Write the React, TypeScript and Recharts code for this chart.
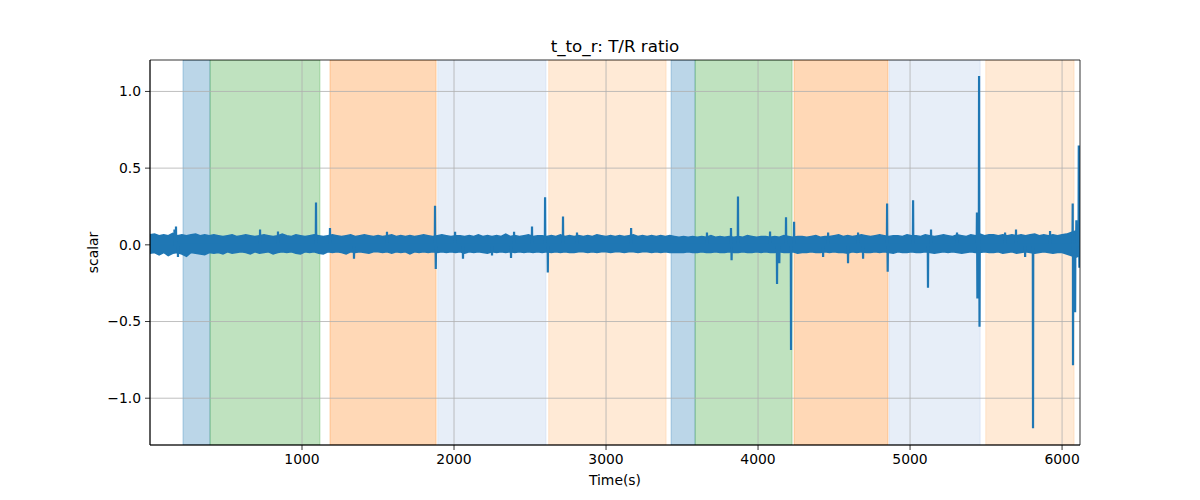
import React from 'react';
import { ComposedChart, Line, Area, XAxis, YAxis, ReferenceArea, ReferenceLine } from 'recharts';

// ---- data ----
// Noise envelope of the signal, sampled every 30 s.
// Each chunk lists alternating (upper, lower) envelope values.
const envelopeStep = 30;

const envelopeChunk0 = [
  0.065,-0.055, 0.07,-0.05, 0.06,-0.065, 0.065,-0.05, 0.06,-0.07,
  0.075,-0.055, 0.06,-0.05, 0.065,-0.06, 0.06,-0.075, 0.065,-0.05,
  0.07,-0.055, 0.06,-0.06, 0.065,-0.065, 0.06,-0.05, 0.065,-0.055,
  0.06,-0.05, 0.055,-0.06, 0.06,-0.045, 0.065,-0.055, 0.055,-0.05,
  0.06,-0.045, 0.065,-0.05, 0.06,-0.06, 0.055,-0.045, 0.06,-0.055,
  0.065,-0.05, 0.06,-0.045, 0.055,-0.06, 0.06,-0.05, 0.07,-0.045,
  0.06,-0.05, 0.055,-0.045, 0.065,-0.055, 0.06,-0.06, 0.055,-0.045,
  0.06,-0.05, 0.065,-0.045, 0.06,-0.055, 0.055,-0.06, 0.06,-0.045,
  0.065,-0.05, 0.06,-0.045, 0.055,-0.05, 0.06,-0.06, 0.065,-0.045,
  0.055,-0.05, 0.06,-0.045, 0.065,-0.05, 0.06,-0.055, 0.055,-0.045,
];
const envelopeChunk1 = [
  0.06,-0.045, 0.055,-0.05, 0.06,-0.045, 0.065,-0.055, 0.055,-0.045,
  0.06,-0.05, 0.055,-0.045, 0.06,-0.06, 0.055,-0.045, 0.06,-0.05,
  0.065,-0.045, 0.06,-0.05, 0.055,-0.045, 0.06,-0.05, 0.065,-0.045,
  0.06,-0.05, 0.055,-0.045, 0.06,-0.05, 0.06,-0.045, 0.055,-0.055,
  0.06,-0.045, 0.055,-0.05, 0.065,-0.045, 0.055,-0.05, 0.06,-0.055,
  0.055,-0.045, 0.06,-0.05, 0.055,-0.045, 0.07,-0.05, 0.055,-0.045,
  0.06,-0.05, 0.055,-0.045, 0.06,-0.05, 0.065,-0.045, 0.055,-0.05,
  0.06,-0.045, 0.06,-0.05, 0.055,-0.045, 0.06,-0.05, 0.055,-0.045,
  0.065,-0.05, 0.055,-0.045, 0.06,-0.05, 0.055,-0.05, 0.06,-0.045,
  0.055,-0.045, 0.06,-0.05, 0.055,-0.045, 0.065,-0.05, 0.06,-0.045,
];
const envelopeChunk2 = [
  0.055,-0.045, 0.06,-0.05, 0.055,-0.045, 0.06,-0.045, 0.055,-0.05,
  0.06,-0.045, 0.065,-0.045, 0.055,-0.05, 0.06,-0.045, 0.055,-0.045,
  0.06,-0.05, 0.055,-0.045, 0.06,-0.05, 0.055,-0.045, 0.06,-0.05,
  0.055,-0.05, 0.05,-0.05, 0.055,-0.05, 0.05,-0.045, 0.055,-0.05,
  0.05,-0.05, 0.055,-0.045, 0.05,-0.05, 0.06,-0.05, 0.05,-0.045,
  0.055,-0.05, 0.05,-0.05, 0.055,-0.045, 0.05,-0.05, 0.055,-0.05,
  0.05,-0.045, 0.06,-0.05, 0.055,-0.05, 0.05,-0.045, 0.055,-0.05,
  0.055,-0.045, 0.05,-0.05, 0.055,-0.05, 0.05,-0.045, 0.06,-0.05,
  0.055,-0.05, 0.05,-0.045, 0.055,-0.055, 0.055,-0.05, 0.05,-0.05,
  0.055,-0.045, 0.06,-0.05, 0.05,-0.05, 0.055,-0.045, 0.055,-0.05,
];
const envelopeChunk3 = [
  0.06,-0.045, 0.065,-0.05, 0.055,-0.05, 0.06,-0.055, 0.055,-0.045,
  0.06,-0.05, 0.065,-0.045, 0.06,-0.05, 0.055,-0.05, 0.06,-0.045,
  0.065,-0.05, 0.06,-0.045, 0.055,-0.05, 0.06,-0.055, 0.06,-0.045,
  0.055,-0.05, 0.065,-0.05, 0.06,-0.045, 0.06,-0.05, 0.055,-0.05,
  0.065,-0.045, 0.06,-0.05, 0.055,-0.055, 0.06,-0.05, 0.065,-0.045,
  0.06,-0.05, 0.055,-0.045, 0.065,-0.05, 0.06,-0.055, 0.055,-0.05,
  0.065,-0.045, 0.06,-0.05, 0.07,-0.05, 0.06,-0.045, 0.065,-0.05,
  0.065,-0.05, 0.06,-0.045, 0.065,-0.055, 0.06,-0.05, 0.065,-0.045,
  0.06,-0.055, 0.065,-0.05, 0.06,-0.045, 0.065,-0.05, 0.07,-0.055,
  0.06,-0.05, 0.065,-0.045, 0.06,-0.05, 0.065,-0.055, 0.06,-0.05,
];
const envelopeChunk4 = [0.065,-0.05, 0.07,-0.06, 0.08,-0.07, 0.09,-0.08, 0.08,-0.07];

// isolated spikes: time and value
const spikeTimes = [
  161, 171, 184, 724, 842, 1092, 1184, 1342, 1559, 1875, 1880, 2007, 2059, 2250,
  2375, 2395, 2513, 2599, 2617, 2717, 2809, 3165, 3664, 3822, 3826, 3868, 4079,
  4125, 4140, 4184, 4217, 4237, 4428, 4461, 4592, 4658, 4691, 4849, 4853, 5020,
  5118, 5138, 5309, 5440, 5443, 5454, 5457, 5625, 5697, 5757, 5809, 5921, 6070,
  6072, 6086, 6094, 6110, 6114, 6118,
];
const spikeValues = [
  0.1, 0.12, -0.08, 0.1, 0.087, 0.276, 0.11, -0.09, 0.085, 0.255, -0.157, 0.085, -0.09, -0.07,
  -0.085, 0.085, 0.12, 0.31, -0.18, 0.185, 0.08, 0.11, 0.08, 0.11, -0.1, 0.315, 0.087,
  -0.255, -0.12, 0.18, -0.686, 0.15, -0.08, 0.08, -0.12, 0.08, -0.09, 0.27, -0.175, 0.29,
  -0.28, 0.1, 0.08, 0.21, -0.35, 1.1, -0.534, 0.08, 0.1, -0.08, -1.196, 0.09, 0.27,
  -0.785, -0.44, 0.16, 0.647, -0.15, -0.12,
];

// phases shaded behind the signal
const phaseStarts = [217, 395, 1184, 1893, 2623, 3428, 3586, 4237, 4862, 5498];
const phaseEnds = [395, 1118, 1882, 2605, 3395, 3586, 4224, 4855, 5461, 6079];
const phaseKinds = ['p1', 'p2', 'p3', 'p4', 'p5', 'p1', 'p2', 'p3', 'p4', 'p5'];

const xTicks = [1000, 2000, 3000, 4000, 5000, 6000];
const yTicks = [-1.0, -0.5, 0.0, 0.5, 1.0];
const xDomain = [0, 6118];
const yDomain = [-1.305, 1.205];

// ---- styles ----
const phaseColors: Record<string, string> = {
  p1: '#1f77b4',
  p2: '#2ca02c',
  p3: '#ff7f0e',
  p4: '#aec7e8',
  p5: '#ffbb78',
};
const LINE = '#1f77b4';
const FONT = 'DejaVu Sans, sans-serif';

// ---- build rows ----
const envelopeFlat = [...envelopeChunk0, ...envelopeChunk1, ...envelopeChunk2, ...envelopeChunk3, ...envelopeChunk4];
type Row = { t: number; band?: [number, number]; v?: number };
const bandRows: Row[] = [];
for (let i = 0; i + 1 < envelopeFlat.length; i += 2) {
  bandRows.push({ t: (i / 2) * envelopeStep, band: [envelopeFlat[i + 1], envelopeFlat[i]] });
}
// each spike is a single sample between baseline samples
const spikeRows: Row[] = [];
spikeTimes.forEach((t, i) => {
  spikeRows.push({ t: t - 1.5, v: 0 });
  spikeRows.push({ t, v: spikeValues[i] });
  spikeRows.push({ t: t + 1.5, v: 0 });
});
const series = [...bandRows, ...spikeRows].sort((a, b) => a.t - b.t);

const fmtY = (v: number) => (v < 0 ? '\u2212' + Math.abs(v).toFixed(1) : v.toFixed(1));

export default function App() {
  return (
    <div style={{ position: 'absolute', left: 0, top: 0, width: 1200, height: 500, background: '#fff' }}>
      <ComposedChart
        width={1200}
        height={500}
        data={series}
        margin={{ top: 60, right: 120, bottom: 25, left: 90 }}
      >
        {phaseStarts.map((s, i) => (
          <ReferenceArea
            key={'ph' + i}
            x1={s}
            x2={phaseEnds[i]}
            fill={phaseColors[phaseKinds[i]]}
            fillOpacity={0.3}
            stroke={phaseColors[phaseKinds[i]]}
            strokeOpacity={0.3}
            strokeWidth={1}
            ifOverflow="hidden"
            zIndex={10}
          />
        ))}
        {xTicks.map((t) => (
          <ReferenceLine key={'gx' + t} x={t} stroke="#b0b0b0" strokeWidth={0.8} zIndex={20} />
        ))}
        {yTicks.map((t) => (
          <ReferenceLine key={'gy' + t} y={t} stroke="#b0b0b0" strokeWidth={0.8} zIndex={20} />
        ))}
        <XAxis
          dataKey="t"
          type="number"
          domain={xDomain}
          allowDataOverflow
          ticks={xTicks}
          tickFormatter={(v: number) => String(v)}
          height={30}
          tickSize={5}
          tickMargin={4}
          axisLine={{ stroke: '#000', strokeWidth: 0.8 }}
          tickLine={{ stroke: '#000', strokeWidth: 0.8 }}
          tick={{ fill: '#000', fontSize: 13.9, fontFamily: FONT }}
        />
        <YAxis
          type="number"
          domain={yDomain}
          allowDataOverflow
          ticks={yTicks}
          tickFormatter={fmtY}
          width={60}
          tickSize={5}
          tickMargin={4}
          axisLine={{ stroke: '#000', strokeWidth: 0.8 }}
          tickLine={{ stroke: '#000', strokeWidth: 0.8 }}
          tick={{ fill: '#000', fontSize: 13.9, fontFamily: FONT }}
        />
        <Area
          type="linear"
          dataKey="band"
          fill={LINE}
          fillOpacity={1}
          stroke={LINE}
          strokeWidth={1.5}
          connectNulls
          dot={false}
          activeDot={false}
          isAnimationActive={false}
          zIndex={100}
        />
        <Line
          type="linear"
          dataKey="v"
          stroke={LINE}
          strokeWidth={2.2}
          connectNulls
          dot={false}
          activeDot={false}
          isAnimationActive={false}
          zIndex={400}
        />
        <ReferenceArea
          x1={xDomain[0]}
          x2={xDomain[1]}
          y1={yDomain[0]}
          y2={yDomain[1]}
          fill="none"
          stroke="#000"
          strokeWidth={0.8}
          zIndex={600}
        />
      </ComposedChart>
      <svg
        width={1200}
        height={500}
        style={{ position: 'absolute', left: 0, top: 0, pointerEvents: 'none' }}
      >
        <text x={615} y={52} textAnchor="middle" fontFamily={FONT} fontSize={16.7} fill="#000">
          t_to_r: T/R ratio
        </text>
        <text x={615} y={485} textAnchor="middle" fontFamily={FONT} fontSize={13.9} fill="#000">
          Time(s)
        </text>
        <text
          x={98}
          y={252.5}
          textAnchor="middle"
          fontFamily={FONT}
          fontSize={13.9}
          fill="#000"
          transform="rotate(-90 98 252.5)"
        >
          scalar
        </text>
      </svg>
    </div>
  );
}
